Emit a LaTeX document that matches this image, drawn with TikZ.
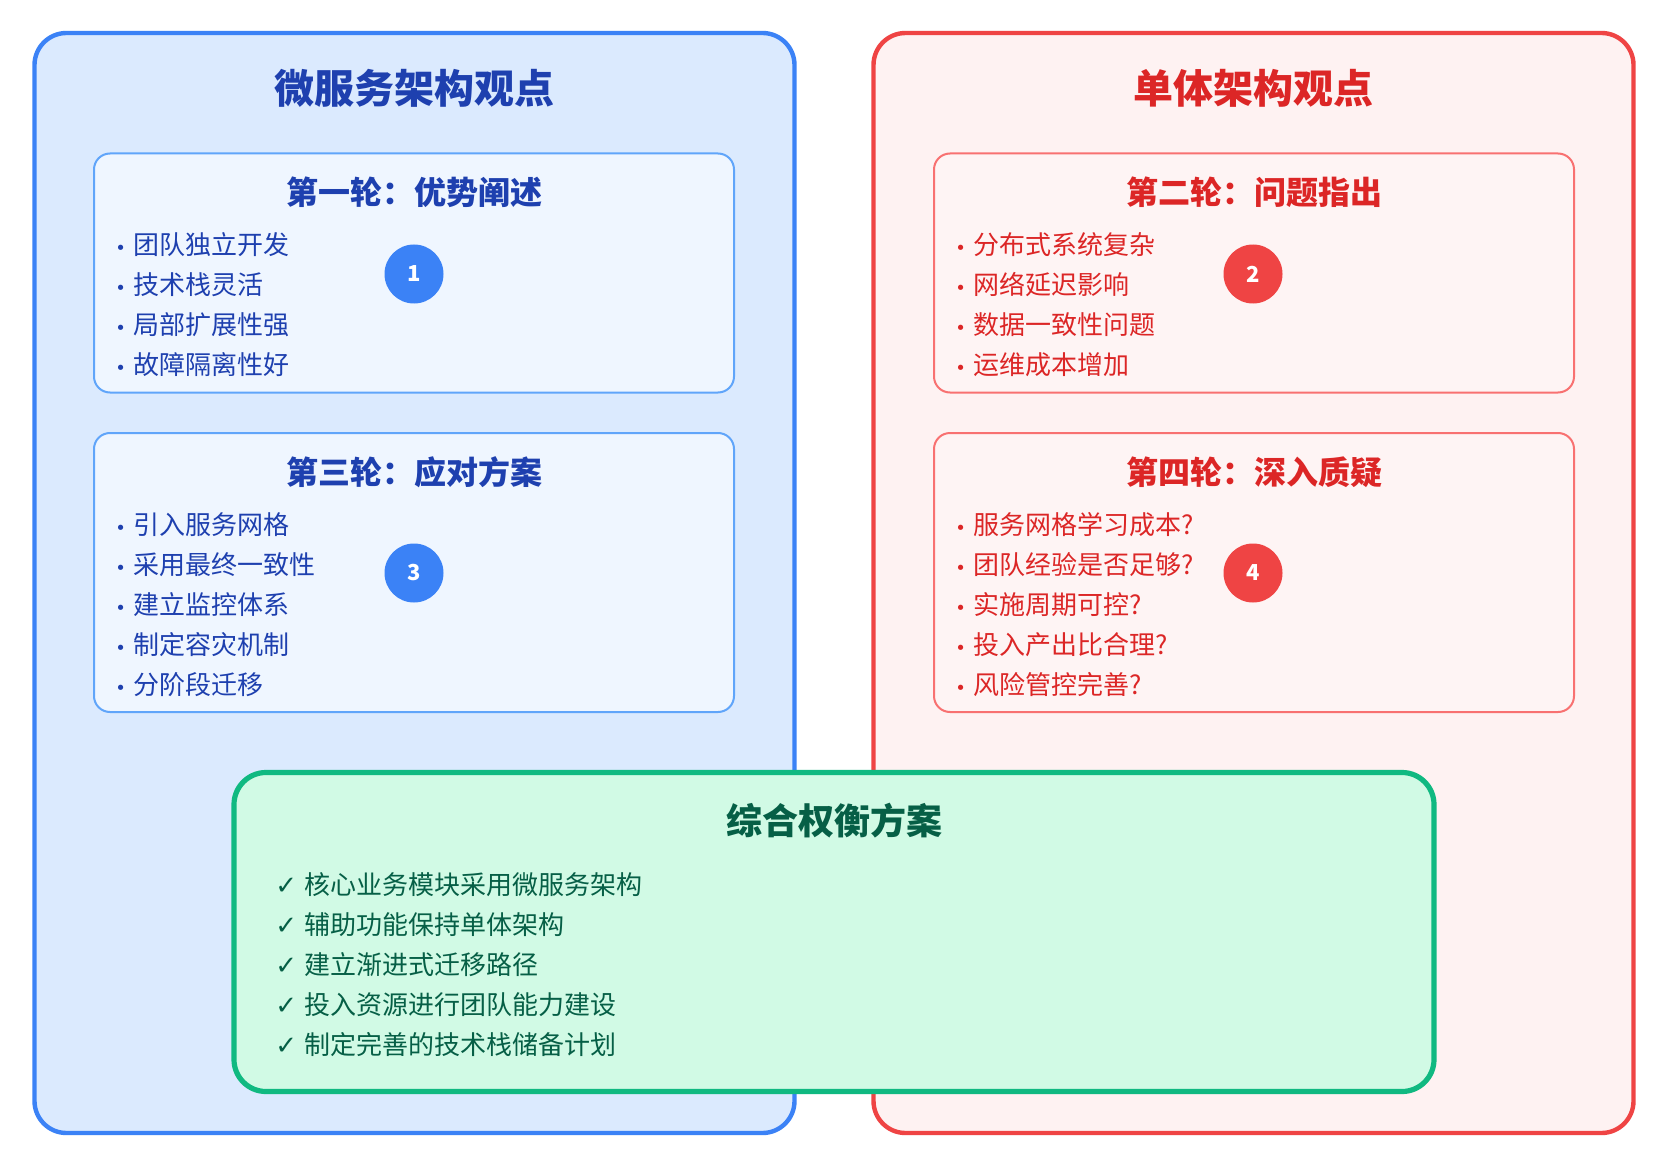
\documentclass[tikz,border=0pt]{standalone}
\usepackage{fontspec}
\setmainfont{Noto Sans CJK SC}
\newfontfamily\dejavu{DejaVu Sans}
\definecolor{bluebd}{HTML}{3B82F6}
\definecolor{bluebg}{HTML}{DBEAFE}
\definecolor{bluein}{HTML}{EFF6FF}
\definecolor{bluelt}{HTML}{60A5FA}
\definecolor{bluetx}{HTML}{1E40AF}
\definecolor{redbd}{HTML}{EF4444}
\definecolor{redbg}{HTML}{FEF2F2}
\definecolor{redin}{HTML}{FEF4F4}
\definecolor{redlt}{HTML}{F87171}
\definecolor{redtx}{HTML}{DC2626}
\definecolor{grnbd}{HTML}{10B981}
\definecolor{grnbg}{HTML}{D1FAE5}
\definecolor{grntx}{HTML}{065F46}
\begin{document}
\begin{tikzpicture}[x=0.5pt,y=-0.5pt,
  bigbox/.style={draw, rounded corners=16pt, line width=2.2pt, inner sep=0pt},
  inbox/.style={draw, rounded corners=8pt, line width=1pt, inner sep=0pt, minimum width=320pt},
  maintitle/.style={font=\fontsize{20}{24}\selectfont\bfseries, inner sep=0pt},
  subtitle/.style={font=\fontsize{16}{19}\selectfont\bfseries, inner sep=0pt},
  item/.style={anchor=west, font=\fontsize{13}{16}\selectfont, inner sep=0pt, text height=0.88em, text depth=0.12em},
  num/.style={circle, minimum size=29.5pt, inner sep=0pt, text=white, font=\fontsize{11}{13}\selectfont\bfseries},
]
\useasboundingbox (0,0) rectangle (1670,1166);
\fill[white] (0,0) rectangle (1670,1166);

% big panels
\node[bigbox, draw=bluebd, fill=bluebg, minimum width=380pt, minimum height=550pt] (micro) at (414.5,583) {};
\node[bigbox, draw=redbd, fill=redbg, minimum width=380pt, minimum height=550pt] (mono) at (1253.5,583) {};

\node[maintitle, text=bluetx] (microT) at (414,88) {微服务架构观点};
\node[maintitle, text=redtx] (monoT) at (1253,88) {单体架构观点};

% inner boxes left
\node[inbox, draw=bluelt, fill=bluein, minimum height=119.5pt] (r1) at (414,273) {};
\node[inbox, draw=bluelt, fill=bluein, minimum height=139.5pt] (r3) at (414,572.5) {};
% inner boxes right
\node[inbox, draw=redlt, fill=redin, minimum height=119.5pt] (r2) at (1254,273) {};
\node[inbox, draw=redlt, fill=redin, minimum height=139.5pt] (r4) at (1254,572.5) {};

\node[subtitle, text=bluetx] (r1T) at (414,192) {第一轮：优势阐述};
\node[subtitle, text=bluetx] (r3T) at (414,472) {第三轮：应对方案};
\node[subtitle, text=redtx] (r2T) at (1254,192) {第二轮：问题指出};
\node[subtitle, text=redtx] (r4T) at (1254,472) {第四轮：深入质疑};

\newcommand{\bul}{\makebox[9pt][l]{\dejavu\fontsize{9}{10}\selectfont •}}

\begin{scope}[every node/.style={item, text=bluetx}]
\node (a1) at (115,246.5) {\bul 团队独立开发};
\node (a2) at (115,286.5) {\bul 技术栈灵活};
\node (a3) at (115,326.5) {\bul 局部扩展性强};
\node (a4) at (115,366.5) {\bul 故障隔离性好};
\node (c1) at (115,526.5) {\bul 引入服务网格};
\node (c2) at (115,566.5) {\bul 采用最终一致性};
\node (c3) at (115,606.5) {\bul 建立监控体系};
\node (c4) at (115,646.5) {\bul 制定容灾机制};
\node (c5) at (115,686.5) {\bul 分阶段迁移};
\end{scope}
\begin{scope}[every node/.style={item, text=redtx}]
\node (b1) at (955,246.5) {\bul 分布式系统复杂};
\node (b2) at (955,286.5) {\bul 网络延迟影响};
\node (b3) at (955,326.5) {\bul 数据一致性问题};
\node (b4) at (955,366.5) {\bul 运维成本增加};
\node (d1) at (955,526.5) {\bul 服务网格学习成本?};
\node (d2) at (955,566.5) {\bul 团队经验是否足够?};
\node (d3) at (955,606.5) {\bul 实施周期可控?};
\node (d4) at (955,646.5) {\bul 投入产出比合理?};
\node (d5) at (955,686.5) {\bul 风险管控完善?};
\end{scope}

\node[num, fill=bluebd] (n1) at (414,274) {1};
\node[num, fill=redbd] (n2) at (1253,274) {2};
\node[num, fill=bluebd] (n3) at (414,573) {3};
\node[num, fill=redbd] (n4) at (1253,573) {4};

% synthesis
\node[draw=grnbd, fill=grnbg, rounded corners=16pt, line width=2.6pt, inner sep=0pt, minimum width=600pt, minimum height=159.5pt] (syn) at (834,932) {};
\node[inner sep=0pt, font=\fontsize{18}{21}\selectfont\bfseries, text=grntx] (synT) at (834,821) {综合权衡方案};
\newcommand{\chk}{\makebox[14.5pt][l]{\dejavu\fontsize{13}{15}\selectfont ✓}}
\begin{scope}[every node/.style={item, text=grntx}]
\node (s1) at (275,886.5) {\chk 核心业务模块采用微服务架构};
\node (s2) at (275,926.5) {\chk 辅助功能保持单体架构};
\node (s3) at (275,966.5) {\chk 建立渐进式迁移路径};
\node (s4) at (275,1006.5) {\chk 投入资源进行团队能力建设};
\node (s5) at (275,1046.5) {\chk 制定完善的技术栈储备计划};
\end{scope}
\end{tikzpicture}
\end{document}
